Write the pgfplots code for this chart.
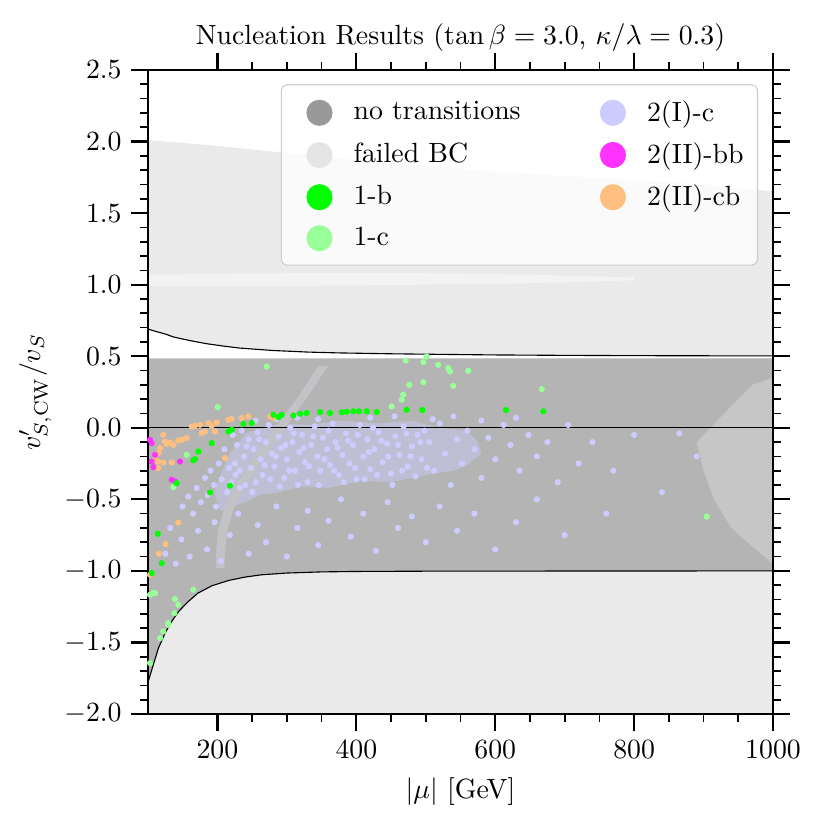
\documentclass[border=0pt]{standalone}
\usepackage{pgfplots}
\pgfplotsset{compat=1.18}
\definecolor{cnt}{RGB}{153,153,153}
\definecolor{cfb}{RGB}{229,229,229}
\definecolor{cob}{RGB}{0,255,0}
\definecolor{coc}{RGB}{153,255,153}
\definecolor{ctc}{RGB}{204,204,255}
\definecolor{ctbb}{RGB}{255,51,255}
\definecolor{ctcb}{RGB}{255,191,128}
\definecolor{fillnt}{RGB}{180,180,180}
\definecolor{fillfb}{RGB}{234,234,234}
\definecolor{fillgap}{RGB}{243,243,243}
\definecolor{fillmixtc}{RGB}{190,190,212}
\definecolor{fillmixr}{RGB}{198,198,198}
\definecolor{fillstreak}{RGB}{194,194,199}
\begin{document}
\begin{tikzpicture}
\begin{axis}[
  name=ax,
  scale only axis, width=225pt, height=231.84pt,
  xmin=100, xmax=1000, ymin=-2, ymax=2.5,
  xtick={200,400,600,800,1000}, minor x tick num=3,
  ytick={-2,-1.5,-1,-0.5,0,0.5,1,1.5,2,2.5}, minor y tick num=4,
  tick align=outside, xtick pos=both, ytick pos=both,
  xticklabel pos=lower, yticklabel pos=left,
  major tick length=6pt, minor tick length=2.7pt,
  every major tick/.append style={line width=0.8pt, black},
  every minor tick/.append style={line width=0.6pt, black},
  axis line style={line width=0.8pt},
  yticklabel style={/pgf/number format/.cd, fixed, fixed zerofill, precision=1},
  xticklabel style={/pgf/number format/1000 sep={}},
  title={Nucleation Results ($\tan\beta = 3.0$, $\kappa/\lambda = 0.3$)},
  title style={yshift=-2.9pt},
  xlabel={$|\mu|$ [GeV]},
  ylabel={$v'_{S,\mathrm{CW}}/v_S$},
  ylabel shift=-2.2pt,
  axis on top,
  legend columns=2,
  legend cell align=left,
  legend style={at={(rel axis cs:0.976,0.978)}, anchor=north east,
    draw=black!20, rounded corners=2pt, fill=white, fill opacity=0.8, text opacity=1,
    font=\normalsize, row sep=2.2pt, inner xsep=3pt, inner ysep=3.6pt,
    /tikz/every odd column/.append style={column sep=5.6pt},
    /tikz/every even column/.append style={column sep=20.5pt}},
]
% legend (row-wise order for two columns)
\addlegendimage{legend image code/.code={\path (-10.5pt,0) (4.5pt,0); \fill[cnt, fill opacity=1] (0,0) circle (4.5pt);}}
\addlegendentry{no transitions}
\addlegendimage{legend image code/.code={\path (-10.5pt,0) (4.5pt,0); \fill[ctc, fill opacity=1] (0,0) circle (4.5pt);}}
\addlegendentry{2(I)-c}
\addlegendimage{legend image code/.code={\path (-10.5pt,0) (4.5pt,0); \fill[cfb, fill opacity=1] (0,0) circle (4.5pt);}}
\addlegendentry{failed BC}
\addlegendimage{legend image code/.code={\path (-10.5pt,0) (4.5pt,0); \fill[ctbb, fill opacity=1] (0,0) circle (4.5pt);}}
\addlegendentry{2(II)-bb}
\addlegendimage{legend image code/.code={\path (-10.5pt,0) (4.5pt,0); \fill[cob, fill opacity=1] (0,0) circle (4.5pt);}}
\addlegendentry{1-b}
\addlegendimage{legend image code/.code={\path (-10.5pt,0) (4.5pt,0); \fill[ctcb, fill opacity=1] (0,0) circle (4.5pt);}}
\addlegendentry{2(II)-cb}
\addlegendimage{legend image code/.code={\path (-10.5pt,0) (4.5pt,0); \fill[coc, fill opacity=1] (0,0) circle (4.5pt);}}
\addlegendentry{1-c}

% failed BC, upper dense region
\addplot[forget plot, fill=fillfb, draw=none] coordinates {
(100,0.69)(110,0.675)(125,0.655)(137,0.634)(150,0.62)(165,0.605)(185,0.587)(210,0.570)
(232,0.557)(260,0.547)(280,0.540)(330,0.529)(376,0.523)(450,0.517)(520,0.513)(600,0.509)
(700,0.506)(800,0.504)(900,0.503)(1000,0.502)
(1000,1.65)(900,1.70)(800,1.73)(700,1.76)(600,1.79)(500,1.83)(400,1.87)(300,1.92)(200,1.97)(150,1.99)(100,2.01)};
% sparser band near 1.0
\addplot[forget plot, fill=fillgap, draw=none] coordinates {
(100,0.99)(300,0.99)(500,1.0)(650,1.01)(800,1.03)(800,1.05)(650,1.07)(500,1.08)(300,1.08)(100,1.07)};
% failed BC, lower dense region
\addplot[forget plot, fill=fillfb, draw=none] coordinates {
(100,-1.78)(103,-1.73)(108,-1.65)(115,-1.54)(124.5,-1.435)(134,-1.354)(144,-1.284)(158,-1.214)
(172,-1.155)(192,-1.104)(216,-1.067)(240,-1.043)(264,-1.027)(300,-1.015)(350,-1.007)(400,-1.004)
(500,-1.002)(700,-1.001)(1000,-1.0)(1000,-2)(100,-2)};
% no transitions, dense band
\addplot[forget plot, fill=fillnt, draw=none] coordinates {
(100,0.485)(1000,0.485)
(1000,-1.0)(700,-1.001)(500,-1.002)(400,-1.004)(350,-1.007)(300,-1.015)(264,-1.027)(240,-1.043)
(216,-1.067)(192,-1.104)(172,-1.155)(158,-1.214)(144,-1.284)(134,-1.354)(124.5,-1.435)(115,-1.54)
(108,-1.65)(103,-1.73)(100,-1.78)};
% mixed region at large mu
\addplot[forget plot, fill=fillmixr, draw=none] coordinates {
(890,-0.1)(930,0.1)(970,0.3)(1000,0.35)(1000,-0.95)(975,-0.85)(940,-0.7)(915,-0.5)(900,-0.3)};
% 2(I)-c dense core (blended)
\addplot[forget plot, fill=fillmixtc, draw=none] coordinates {
(195,-0.45)(205,-0.33)(215,-0.2)(228,-0.12)(240,-0.04)(265,0.0)(290,0.03)(330,0.02)(380,0.05)
(430,0.03)(480,0.05)(520,0.0)(560,-0.02)(575,-0.1)(580,-0.18)(560,-0.26)(540,-0.3)(500,-0.33)
(450,-0.38)(410,-0.37)(360,-0.42)(320,-0.41)(290,-0.45)(260,-0.47)(240,-0.52)(220,-0.55)(205,-0.58)};
% failed BC streak
\addplot[forget plot, fill=fillstreak, draw=none] coordinates {
(345,0.43)(315,0.21)(285,0.01)(255,-0.19)(228,-0.39)(209,-0.57)(201,-0.72)(198,-0.87)(198,-0.98)
(210,-0.98)(211,-0.87)(214,-0.72)(223,-0.57)(242,-0.39)(269,-0.19)(299,0.01)(329,0.21)(359,0.43)};

% 2(I)-c
\addplot[forget plot, only marks, mark=*, mark size=0.95pt, color=ctc, line width=0.3pt] coordinates {
(222,-0.05)(228,-0.12)(235,-0.02)(238,-0.2)(245,-0.08)(248,-0.28)(252,-0.15)(258,-0.03)(262,-0.22)
(265,-0.33)(270,-0.1)(274,0.02)(278,-0.18)(282,-0.27)(288,-0.06)(292,-0.14)(296,-0.35)(300,-0.22)
(305,0.0)(308,-0.1)(312,-0.3)(318,-0.17)(322,-0.05)(326,-0.24)(330,-0.38)(335,-0.12)(340,0.01)
(344,-0.2)(348,-0.3)(352,-0.07)(358,-0.15)(362,-0.26)(366,0.03)(370,-0.1)(375,-0.33)(380,-0.19)
(385,-0.04)(390,-0.25)(395,-0.12)(400,-0.36)(405,0.02)(410,-0.2)(416,-0.08)(420,-0.29)(426,-0.15)
(432,-0.03)(438,-0.24)(444,-0.11)(450,-0.32)(456,-0.06)(462,-0.19)(468,0.01)(474,-0.27)(480,-0.13)
(488,-0.05)(494,-0.22)
(225,-0.25)(232,-0.3)(242,-0.13)(255,-0.38)(260,-0.08)(268,-0.26)(276,-0.36)(284,-0.2)(290,-0.41)
(298,-0.12)(303,-0.3)(310,-0.04)(316,-0.4)(324,-0.14)(332,-0.27)(338,-0.06)(346,-0.4)(354,-0.22)
(360,-0.02)(368,-0.3)(373,-0.14)(382,-0.38)(388,-0.09)(398,-0.28)(402,-0.05)(412,-0.36)(418,-0.17)
(424,0.0)(430,-0.33)(436,-0.09)(446,-0.2)(452,-0.4)(460,-0.12)(466,-0.3)(472,-0.04)(478,-0.2)
(485,-0.34)(492,-0.1)(498,-0.02)(502,-0.28)
(150,-0.55)(158,-0.48)(165,-0.6)(170,-0.42)(176,-0.52)(182,-0.35)(186,-0.47)(190,-0.3)(195,-0.4)
(198,-0.55)(202,-0.25)(206,-0.36)(210,-0.15)(214,-0.45)(217,-0.28)(220,-0.38)(226,-0.33)(232,-0.42)
(240,-0.4)(250,-0.45)
(505,-0.1)(512,-0.3)(520,0.03)(528,-0.18)(536,-0.4)(545,-0.08)(552,-0.25)(560,-0.02)(570,-0.15)
(580,-0.35)(590,-0.07)(600,-0.22)(612,0.02)(622,-0.12)(635,-0.3)(648,-0.05)(660,-0.2)(675,-0.1)
(690,-0.38)(705,0.02)(720,-0.25)(740,-0.1)(770,-0.3)(800,-0.05)(865,-0.04)(890,-0.2)(840,-0.45)
(125,-0.88)(132,-0.7)(140,-0.95)(148,-0.78)(160,-0.9)(172,-0.72)(185,-0.85)(196,-0.66)(205,-0.93)
(218,-0.75)(230,-0.6)(245,-0.88)(258,-0.68)(270,-0.8)(285,-0.55)(300,-0.9)(315,-0.7)(330,-0.58)
(345,-0.82)(360,-0.65)(378,-0.5)(392,-0.76)(410,-0.6)(428,-0.86)(445,-0.52)(460,-0.7)(480,-0.62)
(500,-0.8)(520,-0.55)(545,-0.72)(570,-0.6)(600,-0.85)(630,-0.66)(660,-0.5)(700,-0.75)(760,-0.6)
(255,0.05)(285,0.06)(315,0.07)(345,0.06)(420,0.07)(455,0.08)(510,0.06)(540,0.08)(580,0.05)(630,0.07)};

% 2(II)-cb
\addplot[forget plot, only marks, mark=*, mark size=0.95pt, color=ctcb, line width=0.3pt] coordinates {
(162.9,0.009)(167.7,0.014)(174.9,0.021)(186.9,0.033)(191.7,0.014)(198.9,0.037)(196.5,-0.026)
(215.7,0.056)(220.5,0.061)(234.9,0.068)(244.4,0.079)(280.5,0.068)(177.3,-0.037)(182.1,-0.026)
(155.7,-0.072)(148.5,-0.084)(143.6,-0.089)(124.5,-0.096)(126.9,-0.112)(131.7,-0.103)(122,-0.049)
(136.5,-0.119)(117.3,-0.142)(114.8,-0.177)(110.1,-0.224)(114.8,-0.236)(122,-0.243)(134.1,-0.243)
(114.8,-0.282)(210.9,-0.212)(143.6,-0.662)(125.5,-0.813)(115.8,-0.88)(102.9,-1.027)(276,0.08)};

% 2(II)-bb
\addplot[forget plot, only marks, mark=*, mark size=0.95pt, color=ctbb, line width=0.3pt] coordinates {
(102.9,-0.084)(105.3,-0.107)(110.1,-0.189)(105.3,-0.236)(107.7,-0.275)(146.1,-0.236)(134.1,-0.363)(138.9,-0.375)};

% 1-c
\addplot[forget plot, only marks, mark=*, mark size=0.95pt, color=coc, line width=0.3pt] coordinates {
(270.9,0.428)(471,0.470)(496.5,0.459)(501.3,0.498)(518,0.44)(532.4,0.417)(534.9,0.393)(561.2,0.398)
(476.3,0.300)(496.5,0.319)(539.6,0.293)(467.6,0.231)(465.3,0.196)(450.9,0.149)(666.9,0.270)
(200.3,0.145)(155.7,-0.189)(136.5,-0.414)(904.5,-0.62)
(110.1,-1.155)(165.2,-1.132)(138.9,-1.197)(143.6,-1.237)(137.9,-1.295)(129.2,-1.377)(122,-1.423)
(117.3,-1.47)(102.9,-1.167)(107.7,-1.155)(102.9,-1.644)(129.2,-1.365)};

% 1-b
\addplot[forget plot, only marks, mark=*, mark size=0.95pt, color=cob, line width=0.3pt] coordinates {
(280.5,0.091)(287.7,0.075)(292.5,0.091)(309.3,0.086)(318.9,0.098)(328.5,0.103)(347.7,0.110)(362,0.103)
(378.9,0.108)(386,0.112)(395.6,0.115)(403.8,0.115)(414.9,0.115)(429.3,0.11)(472.5,0.126)(495,0.124)
(615.5,0.124)(669.3,0.115)
(237.3,0.026)(249.3,0.033)(215.7,-0.026)(220.5,-0.014)(191.7,-0.107)(172.4,-0.166)(167.7,-0.219)
(165.2,-0.228)(141.3,-0.387)(189.3,-0.452)(218,-0.405)(114,-0.741)(119.7,-0.946)(105.3,-1.015)};

% boundary curves and zero line
\addplot[forget plot, black, line width=0.4pt] coordinates {
(100,0.69)(110,0.675)(125,0.655)(137,0.634)(150,0.62)(165,0.605)(185,0.587)(210,0.570)
(232,0.557)(260,0.547)(280,0.540)(330,0.529)(376,0.523)(450,0.517)(520,0.513)(600,0.509)
(700,0.506)(800,0.504)(900,0.503)(1000,0.502)};
\addplot[forget plot, black, line width=0.4pt] coordinates {
(100,-1.78)(103,-1.73)(108,-1.65)(115,-1.54)(124.5,-1.435)(134,-1.354)(144,-1.284)(158,-1.214)
(172,-1.155)(192,-1.104)(216,-1.067)(240,-1.043)(264,-1.027)(300,-1.015)(350,-1.007)(400,-1.004)
(500,-1.002)(700,-1.001)(1000,-1.0)};
\addplot[forget plot, black, line width=0.35pt] coordinates {(100,0)(1000,0)};
\coordinate (bl) at (rel axis cs:0,0);
\end{axis}
\pgfresetboundingbox
\path (bl) ++(-53.28pt,-39.96pt) rectangle ++(297pt,297pt);
\end{tikzpicture}
\end{document}
